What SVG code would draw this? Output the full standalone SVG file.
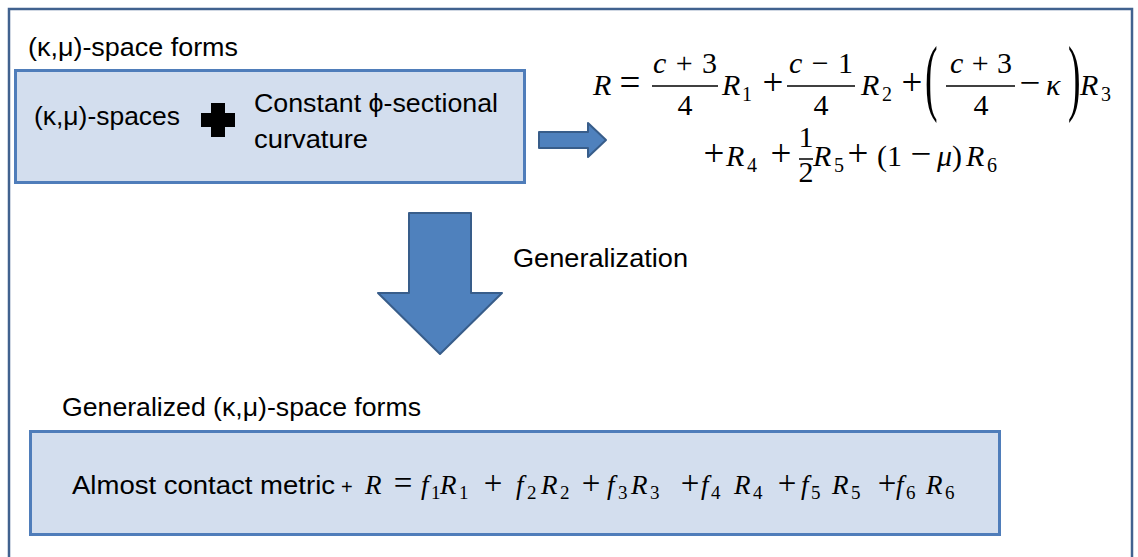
<svg xmlns="http://www.w3.org/2000/svg" width="1138" height="557" viewBox="0 0 1138 557">
<style>
.lbl{font-family:"Liberation Sans",Arial,sans-serif;font-size:25px;fill:#000}
.m{font-family:"Liberation Serif","Times New Roman",serif;font-size:30px;fill:#000}
.op{font-family:"Liberation Serif","Times New Roman",serif;font-size:37px;fill:#000}
.mb{font-family:"Liberation Serif","Times New Roman",serif;font-size:27px;fill:#000}
.opb{font-family:"Liberation Serif","Times New Roman",serif;font-size:33px;fill:#000}
.i{font-style:italic}
.s{font-family:"Liberation Serif","Times New Roman",serif;font-size:20px;fill:#000}
.sb{font-family:"Liberation Serif","Times New Roman",serif;font-size:19px;fill:#000}
.box{fill:#D3DEEE;stroke:#4F7DBA;stroke-width:3}
.arrow{fill:#4F81BD;stroke:#385D8A;stroke-width:2;stroke-linejoin:round}
.bar{stroke:#000;stroke-width:1.5}
</style>
<rect x="0" y="0" width="1138" height="557" fill="#fff"/>
<rect id="frame" x="9" y="9" width="1123" height="560" fill="none" stroke="#41628F" stroke-width="2.5"/>

<g id="top-node">
  <text class="lbl" x="28" y="56" textLength="210" lengthAdjust="spacingAndGlyphs">(κ,μ)-space forms</text>
  <rect class="box" x="15.5" y="70.5" width="509" height="112"/>
  <text class="lbl" x="34" y="125" textLength="146" lengthAdjust="spacingAndGlyphs">(κ,μ)-spaces</text>
  <polygon points="211,103 225,103 225,113 235,113 235,127 225,127 225,137 211,137 211,127 201,127 201,113 211,113" fill="#000"/>
  <text class="lbl" x="254" y="112" textLength="244" lengthAdjust="spacingAndGlyphs">Constant ϕ-sectional</text>
  <text class="lbl" x="254" y="148" textLength="114" lengthAdjust="spacingAndGlyphs">curvature</text>
</g>

<g id="formula-node">
  <text class="m i" x="593" y="95">R</text>
  <text class="op" x="630" y="95" text-anchor="middle">=</text>
  <text class="m" x="685" y="73" text-anchor="middle" textLength="64"><tspan class="i">c</tspan> + 3</text>
  <line class="bar" x1="652" y1="86" x2="718" y2="86"/>
  <text class="m" x="685" y="115" text-anchor="middle">4</text>
  <text class="m i" x="722" y="95">R</text>
  <text class="s" x="742" y="101">1</text>
  <text class="op" x="773" y="95" text-anchor="middle">+</text>
  <text class="m" x="821" y="73" text-anchor="middle" textLength="64"><tspan class="i">c</tspan> − 1</text>
  <line class="bar" x1="787" y1="86" x2="855" y2="86"/>
  <text class="m" x="821" y="115" text-anchor="middle">4</text>
  <text class="m i" x="861" y="95">R</text>
  <text class="s" x="882" y="101">2</text>
  <text class="op" x="912" y="95" text-anchor="middle">+</text>
  <text class="m" transform="translate(925,105) scale(0.45,1)" style="font-size:84px">(</text>
  <text class="m" x="981" y="73" text-anchor="middle" textLength="62"><tspan class="i">c</tspan> + 3</text>
  <line class="bar" x1="946" y1="86" x2="1015" y2="86"/>
  <text class="m" x="981" y="115" text-anchor="middle">4</text>
  <text class="op" x="1030" y="95" text-anchor="middle">−</text>
  <text class="m i" x="1046" y="95">κ</text>
  <text class="m" transform="translate(1068,105) scale(0.45,1)" style="font-size:84px">)</text>
  <text class="m i" x="1080" y="95">R</text>
  <text class="s" x="1101" y="101">3</text>

  <text class="op" x="714" y="166" text-anchor="middle">+</text>
  <text class="m i" x="726" y="166">R</text>
  <text class="s" x="747" y="172">4</text>
  <text class="op" x="781" y="166" text-anchor="middle">+</text>
  <text class="m" x="806" y="147" text-anchor="middle">1</text>
  <line class="bar" x1="799" y1="159" x2="813" y2="159"/>
  <text class="m" x="806" y="182" text-anchor="middle">2</text>
  <text class="m i" x="813" y="166">R</text>
  <text class="s" x="834" y="172">5</text>
  <text class="op" x="858" y="166" text-anchor="middle">+</text>
  <text class="m" x="877" y="166">(1</text>
  <text class="op" x="921" y="166" text-anchor="middle">−</text>
  <text class="m" x="937" y="166"><tspan class="i">μ</tspan>)</text>
  <text class="m i" x="966" y="166">R</text>
  <text class="s" x="987" y="172">6</text>
</g>

<g id="bottom-node">
  <text class="lbl" x="62" y="416" textLength="359" lengthAdjust="spacingAndGlyphs">Generalized (κ,μ)-space forms</text>
  <rect class="box" x="30.5" y="431.5" width="969" height="103"/>
  <text class="lbl" x="72" y="494" textLength="263" lengthAdjust="spacingAndGlyphs">Almost contact metric</text>
  <text class="lbl" x="341" y="494" style="font-size:20px">+</text>
  <text class="mb i" x="365" y="494">R</text>
  <text class="opb" x="403" y="494" text-anchor="middle">=</text>
  <text class="mb i" x="421" y="494">f</text><text class="sb" x="431" y="499">1</text>
  <text class="mb i" x="440" y="494">R</text><text class="sb" x="459" y="499">1</text>
  <text class="opb" x="493" y="494" text-anchor="middle">+</text>
  <text class="mb i" x="516" y="494">f</text><text class="sb" x="527" y="499">2</text>
  <text class="mb i" x="541" y="494">R</text><text class="sb" x="560" y="499">2</text>
  <text class="opb" x="591" y="494" text-anchor="middle">+</text>
  <text class="mb i" x="607" y="494">f</text><text class="sb" x="618" y="499">3</text>
  <text class="mb i" x="631" y="494">R</text><text class="sb" x="650" y="499">3</text>
  <text class="opb" x="690" y="494" text-anchor="middle">+</text>
  <text class="mb i" x="701" y="494">f</text><text class="sb" x="711" y="499">4</text>
  <text class="mb i" x="734" y="494">R</text><text class="sb" x="753" y="499">4</text>
  <text class="opb" x="787" y="494" text-anchor="middle">+</text>
  <text class="mb i" x="801" y="494">f</text><text class="sb" x="811" y="499">5</text>
  <text class="mb i" x="832" y="494">R</text><text class="sb" x="851" y="499">5</text>
  <text class="opb" x="887" y="494" text-anchor="middle">+</text>
  <text class="mb i" x="896" y="494">f</text><text class="sb" x="906" y="499">6</text>
  <text class="mb i" x="926" y="494">R</text><text class="sb" x="945" y="499">6</text>
</g>

<g id="connectors">
  <polygon class="arrow" points="539,132 588,132 588,123 606,140 588,157 588,148 539,148"/>
  <polygon class="arrow" points="409,213 471,213 471,293 502,293 440,354 378,293 409,293"/>
  <text class="lbl" x="513" y="267" textLength="175" lengthAdjust="spacingAndGlyphs">Generalization</text>
</g>
</svg>
